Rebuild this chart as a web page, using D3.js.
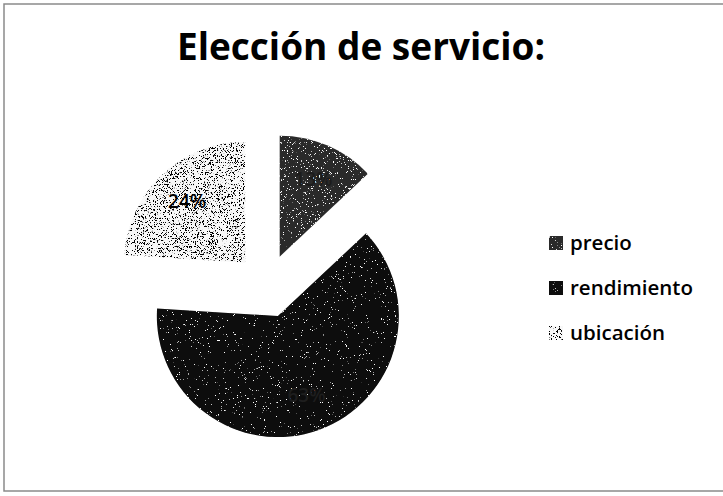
<!DOCTYPE html>
<html>
<head>
<meta charset="utf-8">
<script src="https://cdn.jsdelivr.net/npm/d3@7"></script>
<style>
  html, body { margin: 0; padding: 0; background: #fff; }
  svg { display: block; }
</style>
</head>
<body>
<svg id="chart" width="723" height="496"></svg>
<script>
// Service choice shares (percent)
const categories = ["precio", "rendimiento", "ubicación"];
const values = [13, 63, 24];
const title = "Elección de servicio:";

const width = 723, height = 496;
const svg = d3.select("#chart");
const font = "'Open Sans', Lato, sans-serif";

// Speckled fills: base colour plus thresholded noise dots
const defs = svg.append("defs");
function speckle(id, dotColor, freq, a, b, seed) {
  const f = defs.append("filter").attr("id", id)
    .attr("x", "-5%").attr("y", "-5%").attr("width", "110%").attr("height", "110%");
  f.append("feTurbulence").attr("type", "fractalNoise")
    .attr("baseFrequency", freq).attr("numOctaves", 2).attr("seed", seed).attr("result", "noise");
  const c = d3.color(dotColor);
  f.append("feColorMatrix").attr("in", "noise").attr("type", "matrix")
    .attr("values", `0 0 0 0 ${c.r/255} 0 0 0 0 ${c.g/255} 0 0 0 0 ${c.b/255} ${a} 0 0 0 ${b}`)
    .attr("result", "dots");
  f.append("feComposite").attr("in", "dots").attr("in2", "SourceGraphic")
    .attr("operator", "in").attr("result", "clipped");
  const m = f.append("feMerge");
  m.append("feMergeNode").attr("in", "SourceGraphic");
  m.append("feMergeNode").attr("in", "clipped");
}
speckle("tex0", "#ffffff", 1.5, 20, -13.4, 3);
speckle("tex1", "#ffffff", 1.5, 20, -14.2, 7);
speckle("tex2", "#000000", 1.5, 20, -11.4, 11);

const fills = ["#2c2c2c", "#080808", "#f8f8f8"];
const labelColors = ["#1c1c1c", "#1e1e1e", "#000000"];

// Frame
svg.append("path")
  .attr("d", `M${width},4H4V491H${width}`)
  .attr("fill", "none").attr("stroke", "#8a8a8a").attr("stroke-width", 1.5);

// Title
svg.append("text")
  .attr("x", 361).attr("y", 60)
  .attr("text-anchor", "middle")
  .attr("font-family", font)
  .attr("font-weight", "bold").attr("font-size", 37)
  .attr("fill", "#000")
  .text(title);

// Exploded pie
const cx = 267, cy = 286, r = 121, explode = 32;
const pie = d3.pie().sort(null).value(d => d)(values);
const arc = d3.arc().innerRadius(0).outerRadius(r);
const labelArc = d3.arc().innerRadius(r * 0.7).outerRadius(r * 0.7);

const g = svg.append("g").attr("transform", `translate(${cx},${cy})`);
const slices = g.selectAll("g.slice").data(pie).join("g")
  .attr("class", "slice")
  .attr("transform", d => {
    const a = (d.startAngle + d.endAngle) / 2;
    return `translate(${Math.sin(a) * explode},${-Math.cos(a) * explode})`;
  });
slices.append("path")
  .attr("d", arc)
  .attr("fill", (d, i) => fills[i])
  .attr("filter", (d, i) => `url(#tex${i})`);
slices.append("text")
  .attr("transform", d => `translate(${labelArc.centroid(d)})`)
  .attr("text-anchor", "middle").attr("dy", "0.35em")
  .attr("font-family", font)
  .attr("font-weight", 600)
  .attr("font-size", 19)
  .attr("fill", (d, i) => labelColors[i])
  .text(d => d.data + "%");

// Legend
const legend = svg.append("g").attr("transform", "translate(549,243)");
const items = legend.selectAll("g").data(categories).join("g")
  .attr("transform", (d, i) => `translate(0,${i * 45})`);
items.append("rect")
  .attr("x", 0).attr("y", -7).attr("width", 14).attr("height", 14)
  .attr("fill", (d, i) => fills[i])
  .attr("filter", (d, i) => `url(#tex${i})`);
items.append("text")
  .attr("x", 21).attr("dy", "0.35em")
  .attr("font-family", font)
  .attr("font-weight", 600)
  .attr("font-size", 20.5)
  .attr("fill", "#000")
  .text(d => d);
</script>
</body>
</html>
